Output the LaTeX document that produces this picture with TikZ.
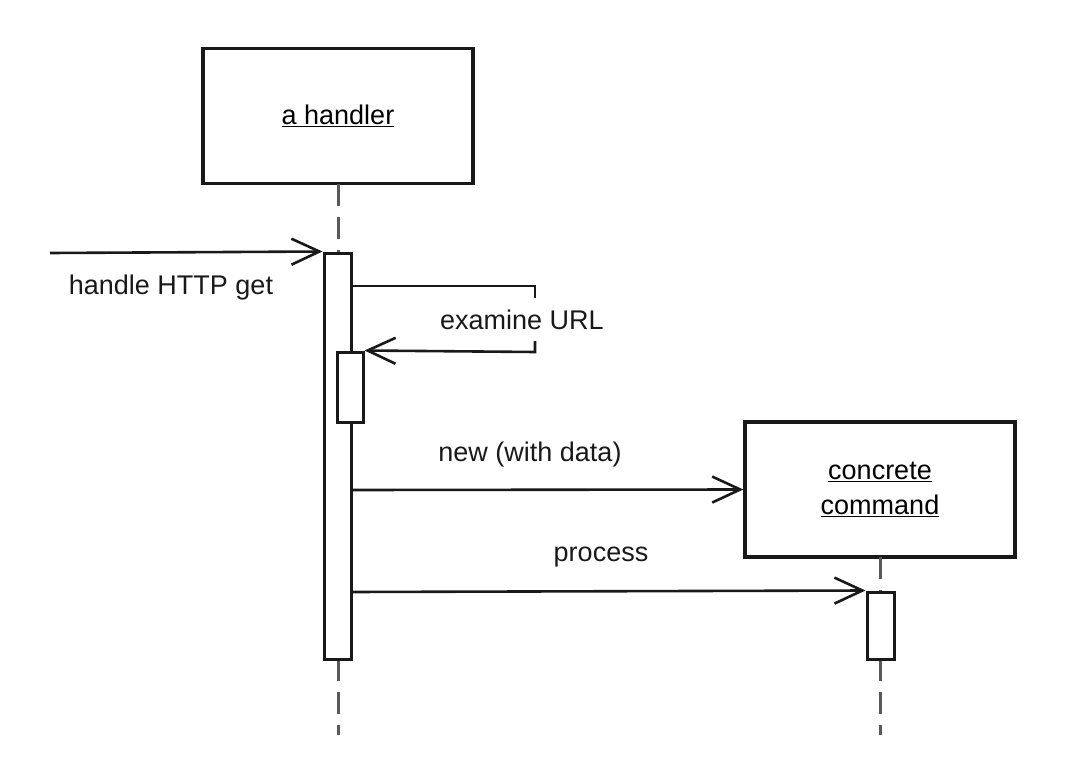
\documentclass[tikz,border=0pt]{standalone}
\usepackage{fontspec}
\setmainfont{Liberation Sans}
\usetikzlibrary{arrows.meta}
\begin{document}
\begin{tikzpicture}[x=1pt,y=-1pt,
  objbox/.style={draw=black!90,line width=3.4pt,fill=white,minimum width=270pt,minimum height=135pt,inner sep=0pt,align=center,font=\fontsize{27}{36}\selectfont},
  actbar/.style={draw=black!90,line width=3pt,fill=white},
  lifeline/.style={draw=black!65,line width=3pt,dash pattern=on 22pt off 11pt},
  msg/.style={draw=black!90,line width=2.6pt,-{Straight Barb[length=28pt,width=26pt,line width=2.6pt]}},
  lbl/.style={font=\fontsize{27}{32}\selectfont,text=black!90,inner sep=0pt}]
\useasboundingbox (0,0) rectangle (1074,760);
% objects
\node[objbox] (handler) at (338,116) {\underline{a handler}};
\node[objbox] (cmd) at (880,489.5) {\underline{concrete}\\[-1pt]\underline{command}};
% lifelines
\coordinate (hl0) at (338,184);
\coordinate (hl1) at (338,253);
\coordinate (hl2) at (338,659);
\coordinate (hl3) at (338,735);
\draw[lifeline] (hl0) -- (hl1);
\draw[lifeline] (hl2) -- (hl3);
\coordinate (cl0) at (880,557);
\coordinate (cl1) at (880,592);
\coordinate (cl2) at (880,659);
\coordinate (cl3) at (880,735);
\draw[lifeline] (cl0) -- (cl1);
\draw[lifeline] (cl2) -- (cl3);
% activation bars
\node[actbar,minimum width=27pt,minimum height=406pt,inner sep=0pt] (bar) at (337.5,456) {};
\node[actbar,minimum width=26pt,minimum height=70pt,inner sep=0pt] (sub) at (350,387) {};
\node[actbar,minimum width=27pt,minimum height=67pt,inner sep=0pt] (cbar) at (880.5,625.5) {};
% incoming message
\coordinate (start) at (50,253);
\draw[msg] (start) -- (bar.north west);
\node[lbl] (l1) at (171,288) {handle HTTP get};
% self call
\coordinate (s1) at (351,286);
\coordinate (s2) at (535,286);
\coordinate (s3) at (535,298);
\coordinate (s4) at (535,341);
\coordinate (s5) at (535,352);
\draw[draw=black!90,line width=2.6pt] (s1) -- (s2) -- (s3);
\draw[msg] (s4) -- (s5) -- (sub.north east);
\node[lbl] (l2) at (522,320) {examine URL};
% new
\coordinate (n1) at (351,490);
\draw[msg] (n1) -- (cmd.west);
\node[lbl] (l3) at (530,455) {new (with data)};
% process
\coordinate (p1) at (351,592);
\draw[msg] (p1) -- (cbar.north west);
\node[lbl] (l4) at (601,557) {process};
\end{tikzpicture}
\end{document}
